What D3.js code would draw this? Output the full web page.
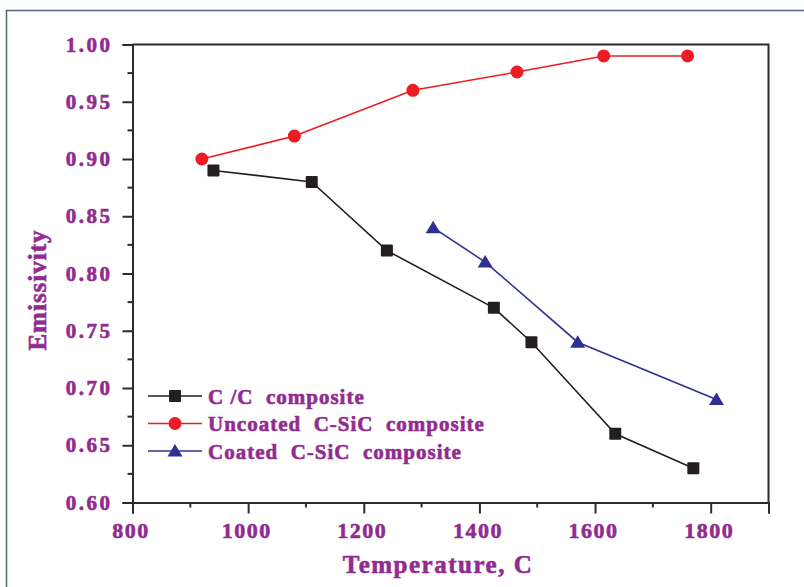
<!DOCTYPE html>
<html>
<head>
<meta charset="utf-8">
<script src="https://cdn.jsdelivr.net/npm/d3@7"></script>
<style>
  html, body { margin: 0; padding: 0; background: #fff; }
  svg { display: block; }
  text { font-family: "Liberation Serif", "Times New Roman", serif; font-weight: bold; fill: #922b8f;
         stroke: #922b8f; stroke-width: 0.6px; }
</style>
</head>
<body>
<svg id="chart" width="804" height="587"></svg>
<script>
// Emissivity vs temperature for three composite materials
const ccTemp = [940, 1110, 1240, 1425, 1490, 1635, 1770];
const ccEmis = [0.89, 0.88, 0.82, 0.77, 0.74, 0.66, 0.63];

const uncoatedTemp = [920, 1080, 1285, 1465, 1615, 1760];
const uncoatedEmis = [0.90, 0.92, 0.96, 0.976, 0.99, 0.99];

const coatedTemp = [1320, 1410, 1570, 1810];
const coatedEmis = [0.84, 0.81, 0.74, 0.69];

const xTicks = [800, 1000, 1200, 1400, 1600, 1800];
const yTicks = [0.60, 0.65, 0.70, 0.75, 0.80, 0.85, 0.90, 0.95, 1.00];

const seriesNames = ["C/C composite", "Uncoated C-SiC composite", "Coated C-SiC composite"];
const seriesLabels = ["C /C  composite", "Uncoated  C-SiC  composite", "Coated  C-SiC  composite"];

const series = [
  { name: seriesNames[0], label: seriesLabels[0], temp: ccTemp, emis: ccEmis, color: "#231f20", marker: "square" },
  { name: seriesNames[1], label: seriesLabels[1], temp: uncoatedTemp, emis: uncoatedEmis, color: "#ed1c24", marker: "circle" },
  { name: seriesNames[2], label: seriesLabels[2], temp: coatedTemp, emis: coatedEmis, color: "#2e3192", marker: "triangle" }
];

const svg = d3.select("#chart");
const plot = { left: 132.5, right: 768.5, top: 44.5, bottom: 502.5 };

const x = d3.scaleLinear().domain([800, 1900]).range([plot.left, plot.right]);
const y = d3.scaleLinear().domain([0.60, 1.00]).range([plot.bottom, plot.top]);

// Outer frame (runs off the right and bottom edges)
svg.append("path")
  .attr("d", "M6.5,600 V10.5 H820")
  .attr("fill", "none")
  .attr("stroke", "#56627a")
  .attr("stroke-width", 1.5);

const axisColor = "#2b2b2b";

// Minor ticks
const g = svg.append("g");
g.selectAll(".xminor").data(d3.range(900, 1900, 200)).join("line")
  .attr("x1", d => x(d)).attr("x2", d => x(d))
  .attr("y1", plot.bottom).attr("y2", plot.bottom + 5)
  .attr("stroke", axisColor).attr("stroke-width", 2);
g.selectAll(".yminor").data(d3.range(0.625, 1.0, 0.05)).join("line")
  .attr("y1", d => y(d)).attr("y2", d => y(d))
  .attr("x1", plot.left).attr("x2", plot.left - 5)
  .attr("stroke", axisColor).attr("stroke-width", 2);

// Bottom axis
const xAxis = svg.append("g")
  .attr("transform", `translate(0,${plot.bottom})`)
  .call(d3.axisBottom(x).tickValues(xTicks.concat([1900])).tickSize(11).tickPadding(9)
    .tickFormat(d => xTicks.includes(d) ? d3.format("d")(d) : ""));
xAxis.select(".domain").attr("stroke", axisColor).attr("stroke-width", 2);
xAxis.selectAll(".tick line").attr("stroke", axisColor).attr("stroke-width", 2);
xAxis.selectAll(".tick text")
  .attr("font-size", 22).attr("letter-spacing", 1.5)
  .style("font-family", "'Liberation Serif', serif").style("font-weight", "bold")
  .attr("fill", "#922b8f").attr("dx", -2);

// Left axis
const yAxis = svg.append("g")
  .attr("transform", `translate(${plot.left},0)`)
  .call(d3.axisLeft(y).tickValues(yTicks).tickSize(10).tickPadding(10)
    .tickFormat(d3.format(".2f")));
yAxis.select(".domain").attr("stroke", axisColor).attr("stroke-width", 2);
yAxis.selectAll(".tick line").attr("stroke", axisColor).attr("stroke-width", 2);
yAxis.selectAll(".tick text")
  .attr("font-size", 21).attr("letter-spacing", 2.5)
  .style("font-family", "'Liberation Serif', serif").style("font-weight", "bold")
  .attr("fill", "#922b8f");

// Top and right borders of the plot box
svg.append("path")
  .attr("d", `M${plot.left},${plot.top} H${plot.right} V${plot.bottom}`)
  .attr("fill", "none").attr("stroke", axisColor).attr("stroke-width", 2);

// Marker drawing
function drawMarker(sel, type, color) {
  if (type === "square") {
    sel.append("rect").attr("x", -6).attr("y", -6).attr("width", 12).attr("height", 12)
      .attr("rx", 1).attr("fill", color);
  } else if (type === "circle") {
    sel.append("circle").attr("r", 6.5).attr("fill", color);
  } else {
    sel.append("path").attr("d", "M0,-7 L7.5,5.5 L-7.5,5.5 Z").attr("fill", color);
  }
}

const line = d3.line().x(d => x(d[0])).y(d => y(d[1]));

series.forEach(s => {
  const pts = s.temp.map((t, i) => [t, s.emis[i]]);
  svg.append("path").datum(pts)
    .attr("d", line)
    .attr("fill", "none")
    .attr("stroke", s.color)
    .attr("stroke-width", 1.6);
  svg.append("g").selectAll("g").data(pts).join("g")
    .attr("transform", d => `translate(${x(d[0])},${y(d[1])})`)
    .each(function () { drawMarker(d3.select(this), s.marker, s.color); });
});

// Legend
const legend = svg.append("g").attr("transform", "translate(148,396)");
series.forEach((s, i) => {
  const row = legend.append("g").attr("transform", `translate(0,${i * 27.5})`);
  row.append("line").attr("x1", 0).attr("x2", 54).attr("y1", 0).attr("y2", 0)
    .attr("stroke", s.color).attr("stroke-width", 1.6);
  drawMarker(row.append("g").attr("transform", "translate(27,0)"), s.marker, s.color);
  row.append("text").attr("x", 60).attr("y", 7.5)
    .attr("font-size", 21).attr("letter-spacing", 1)
    .style("white-space", "pre")
    .text(s.label);
});

// Axis titles
svg.append("text")
  .attr("x", 438).attr("y", 573)
  .attr("text-anchor", "middle")
  .attr("font-size", 25).attr("letter-spacing", 1.5)
  .text("Temperature, C");

svg.append("text")
  .attr("transform", "translate(46,290) rotate(-90)")
  .attr("text-anchor", "middle")
  .attr("font-size", 25).attr("letter-spacing", 1)
  .text("Emissivity");
</script>
</body>
</html>
